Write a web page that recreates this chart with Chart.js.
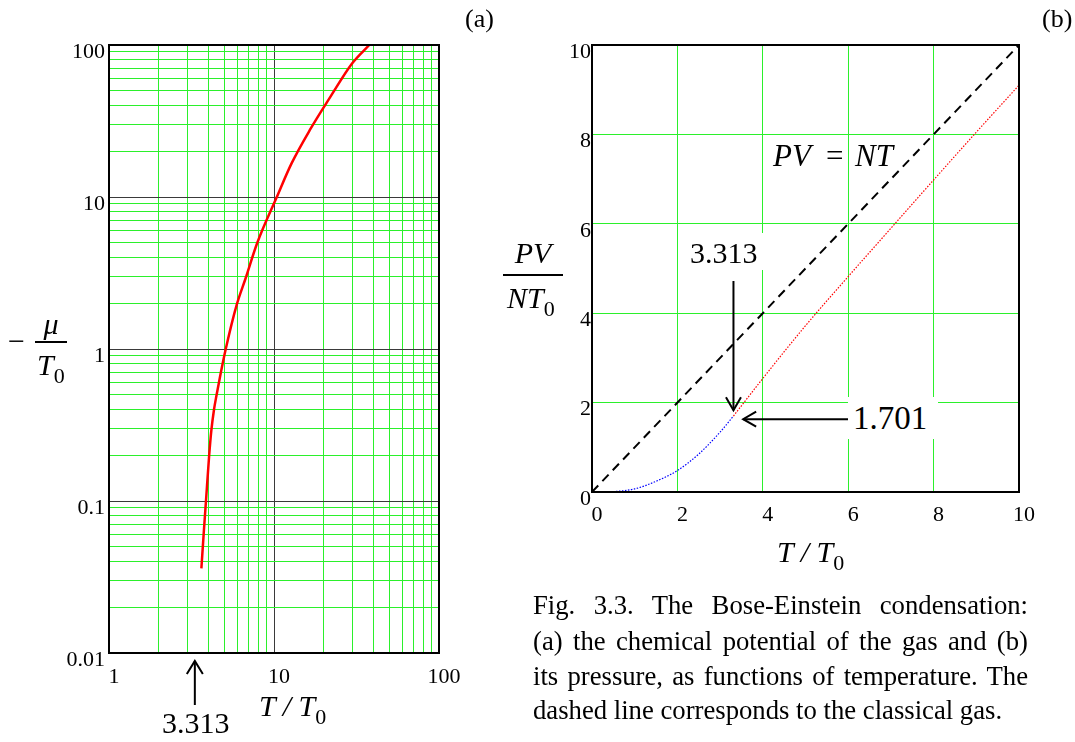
<!DOCTYPE html>
<html><head><meta charset="utf-8">
<script src="https://cdn.jsdelivr.net/npm/chart.js@4.4.1/dist/chart.umd.min.js"></script>
<style>
html,body{margin:0;padding:0;background:#fff;}
body{width:1075px;height:742px;overflow:hidden;position:relative;font-family:"Liberation Serif","Times New Roman",serif;color:#000;}
canvas{position:absolute;top:0;}
.t{position:absolute;line-height:1;white-space:nowrap;color:#000;}
.i{font-style:italic;}
.bar{position:absolute;background:#000;height:1.6px;}
.box{position:absolute;background:#fff;}
.cl{position:absolute;left:533px;width:495px;font-size:26.7px;line-height:35px;white-space:nowrap;}
.j{text-align:justify;text-align-last:justify;white-space:normal;}
</style></head><body>
<canvas id="ca" width="520" height="742" style="left:0px"></canvas>
<canvas id="cb" width="555" height="742" style="left:520px"></canvas>
<div class="box" style="left:686px;top:233px;width:80px;height:37px"></div>
<div class="box" style="left:848px;top:397px;width:90px;height:42px"></div>
<div class="cl j" style="top:588px">Fig. 3.3. The Bose-Einstein condensation:</div>
<div class="cl j" style="top:624px">(a) the chemical potential of the gas and (b)</div>
<div class="cl j" style="top:659px">its pressure, as functions of temperature. The</div>
<div class="cl" style="top:693px">dashed line corresponds to the classical gas.</div>
<script>
// ---------- data ----------
// (a) -mu/T0 versus T/T0 (log-log)
const muT   = [3.63, 3.76, 3.87, 4.04, 4.17, 4.33, 4.49, 4.75, 5.10, 5.94, 6.73, 7.9, 10.4, 12.8, 16.5, 22.0, 29.8, 37.8];
const muVal = [0.036, 0.064, 0.1, 0.195, 0.29, 0.40, 0.50, 0.69, 1.0, 1.95, 2.92, 4.96, 10, 16.7, 27.6, 45.7, 75.8, 100];
const xDecadesA = [1, 10, 100];
const xLabelsA  = ['1', '10', '100'];
const yDecadesA = [0.01, 0.1, 1, 10, 100];
const yLabelsA  = ['0.01', '0.1', '1', '10', '100'];
const minorSteps = [2, 3, 4, 5, 6, 7, 8, 9];
const Tc = 3.313;

// (b) PV/NT0 versus T/T0
const classicalT = [0, 10];
const classicalP = [0, 10];
const condT = [0, 0.5, 1, 1.5, 2, 2.5, 3, 3.313];
const condP = [0, 0.01, 0.07, 0.24, 0.48, 0.85, 1.34, 1.70];
const gasT  = [3.313, 4, 5, 6, 7, 8, 9, 10];
const gasP  = [1.70, 2.54, 3.72, 4.82, 5.90, 6.98, 8.05, 9.10];
const ticksB = [0, 2, 4, 6, 8, 10];
// annotation arrows (data coordinates)
const arrowDownB = {x: 3.313, yFrom: 4.72, yTo: 1.83};
const arrowLeftB = {y: 1.63, xFrom: 6.0, xTo: 3.54};

// ---------- helpers ----------
const FONT = '"Liberation Serif", serif';
const GREEN = '#2bf02b';
const MAJOR = '#3a3a3a';
function pts(xs, ys){ return xs.map((x,i)=>({x:x, y:ys[i]})); }
function logTicks(decades){
  const out = [];
  decades.forEach((d,i)=>{
    out.push({value:d, dec:true});
    if (i < decades.length-1) minorSteps.forEach(m=>out.push({value:d*m, dec:false}));
  });
  return out;
}
const xTicksA = logTicks(xDecadesA);
const yTicksA = logTicks(yDecadesA);
function decadeLabel(v, decades, labels){
  for (let i=0;i<decades.length;i++) if (Math.abs(decades[i]-v) < 1e-9*Math.max(1e-3,v)) return labels[i];
  return '';
}
function arrow(ctx, x0, y0, x1, y1, len, half){
  const a = Math.atan2(y1-y0, x1-x0);
  ctx.beginPath(); ctx.moveTo(x0,y0); ctx.lineTo(x1,y1); ctx.stroke();
  const bx = x1 - len*Math.cos(a), by = y1 - len*Math.sin(a);
  const px = -Math.sin(a)*half, py = Math.cos(a)*half;
  ctx.beginPath(); ctx.moveTo(bx+px, by+py); ctx.lineTo(x1,y1); ctx.lineTo(bx-px, by-py); ctx.stroke();
}
const frame = {
  id:'frame',
  afterDraw(chart){
    const {ctx, chartArea:a} = chart;
    ctx.save(); ctx.strokeStyle='#000'; ctx.lineWidth=2;
    ctx.strokeRect(a.left, a.top, a.right-a.left, a.bottom-a.top);
    ctx.restore();
  }
};

// ---------- chart (a) ----------
const arrowsA = {
  id:'arrowsA',
  afterDraw(chart){
    const ctx = chart.ctx, x = chart.scales.x.getPixelForValue(Tc);
    ctx.save(); ctx.strokeStyle='#000'; ctx.lineWidth=2;
    arrow(ctx, x, 705, x, 661, 13, 8);
    ctx.restore();
  }
};
new Chart(document.getElementById('ca'), {
  type:'scatter',
  data:{datasets:[{
    data: pts(muT, muVal), showLine:true, borderColor:'#ff0000', borderWidth:2.5,
    pointRadius:0, cubicInterpolationMode:'monotone', fill:false
  }]},
  options:{
    responsive:false, devicePixelRatio:1, animation:false,
    layout:{padding:{left:9, right:81, top:45, bottom:49}},
    plugins:{legend:{display:false}, tooltip:{enabled:false}},
    scales:{
      x:{type:'logarithmic', min:1, max:100,
        afterBuildTicks(s){ s.ticks = xTicksA.map(t=>({value:t.value})); },
        afterFit(s){ s.height = 40; },
        border:{display:false},
        grid:{drawTicks:false, color:c=>xTicksA[c.index]&&xTicksA[c.index].dec?MAJOR:GREEN, lineWidth:1},
        ticks:{autoSkip:false, maxRotation:0, padding:11, labelOffset:5, color:'#000', font:{family:FONT, size:22},
          callback:v=>decadeLabel(v, xDecadesA, xLabelsA)}
      },
      y:{type:'logarithmic', min:0.01, max:100,
        afterBuildTicks(s){ s.ticks = yTicksA.map(t=>({value:t.value})); },
        afterFit(s){ s.width = 100; },
        border:{display:false},
        grid:{drawTicks:false, color:c=>yTicksA[c.index]&&yTicksA[c.index].dec?MAJOR:GREEN, lineWidth:1},
        ticks:{autoSkip:false, padding:4, labelOffset:7, color:'#000', font:{family:FONT, size:22},
          callback:v=>decadeLabel(v, yDecadesA, yLabelsA)}
      }
    }
  },
  plugins:[frame, arrowsA]
});

// ---------- chart (b) ----------
const arrowsB = {
  id:'arrowsB',
  afterDraw(chart){
    const ctx = chart.ctx, sx = chart.scales.x, sy = chart.scales.y;
    ctx.save(); ctx.strokeStyle='#000'; ctx.lineWidth=2;
    const x = sx.getPixelForValue(arrowDownB.x);
    arrow(ctx, x, sy.getPixelForValue(arrowDownB.yFrom), x, sy.getPixelForValue(arrowDownB.yTo), 13, 7.5);
    const y = sy.getPixelForValue(arrowLeftB.y);
    arrow(ctx, sx.getPixelForValue(arrowLeftB.xFrom), y, sx.getPixelForValue(arrowLeftB.xTo), y, 13, 7.5);
    ctx.restore();
  }
};
new Chart(document.getElementById('cb'), {
  type:'scatter',
  data:{datasets:[
    {data: pts(classicalT, classicalP), showLine:true, borderColor:'#000', borderWidth:2, borderDash:[9,6], pointRadius:0},
    {data: pts(condT, condP), showLine:true, borderColor:'#0000ff', borderWidth:1.2, borderDash:[1.5,1.5], pointRadius:0, cubicInterpolationMode:'monotone'},
    {data: pts(gasT, gasP), showLine:true, borderColor:'#ff0000', borderWidth:1.2, borderDash:[1.5,1.5], pointRadius:0, cubicInterpolationMode:'monotone'}
  ]},
  options:{
    responsive:false, devicePixelRatio:1, animation:false,
    layout:{padding:{left:32, right:56, top:45, bottom:210}},
    plugins:{legend:{display:false}, tooltip:{enabled:false}},
    scales:{
      x:{type:'linear', min:0, max:10,
        afterBuildTicks(s){ s.ticks = ticksB.map(v=>({value:v})); },
        afterFit(s){ s.height = 40; },
        border:{display:false},
        grid:{drawTicks:false, color:GREEN, lineWidth:1},
        ticks:{autoSkip:false, maxRotation:0, padding:10, labelOffset:5, color:'#000', font:{family:FONT, size:22}}
      },
      y:{type:'linear', min:0, max:10,
        afterBuildTicks(s){ s.ticks = ticksB.map(v=>({value:v})); },
        afterFit(s){ s.width = 40; },
        border:{display:false},
        grid:{drawTicks:false, color:GREEN, lineWidth:1},
        ticks:{autoSkip:false, padding:1, labelOffset:7, color:'#000', font:{family:FONT, size:22}}
      }
    }
  },
  plugins:[frame, arrowsB]
});

// ---------- text labels ----------
function place(html, left, baseline, size, cls, extra){
  const d = document.createElement('div');
  d.className = 't ' + (cls||'');
  d.style.left = left + 'px';
  d.style.top = (baseline - 0.8375*size) + 'px';
  d.style.fontSize = size + 'px';
  if (extra) Object.assign(d.style, extra);
  d.innerHTML = html;
  document.body.appendChild(d);
  return d;
}
function bar(left, top, width){
  const d = document.createElement('div'); d.className='bar';
  d.style.left=left+'px'; d.style.top=top+'px'; d.style.width=width+'px';
  document.body.appendChild(d);
}
const sub = '<span style="font-style:normal;font-size:22px;position:relative;top:8px">0</span>';
// panel tags
place('(a)', 465, 28, 26);
place('(b)', 1042, 28, 26);
// (a) y title
place('\u2212', 8, 351, 30);
place('\u03bc', 35, 334, 30, 'i', {width:32+'px', textAlign:'center'});
bar(35, 341, 32);
place('T' + sub, 37, 375, 30, 'i');
// (a) x title
place('T / T' + sub, 259, 716, 30, 'i');
// (a) 3.313 marker
place('3.313', 162, 733, 30);
// (b) y title
place('PV', 503, 263, 30, 'i', {width:'60px', textAlign:'center'});
bar(503, 274, 60);
place('NT' + sub, 507, 308, 30, 'i');
// (b) x title
place('T / T' + sub, 777, 562, 30, 'i');
// (b) annotations
place('PV', 773, 166, 31, 'i');
place('=', 826, 166, 31);
place('NT', 855, 166, 31, 'i');
place('3.313', 690, 263, 30);
place('1.701', 853, 430, 33);
</script>
</body></html>
